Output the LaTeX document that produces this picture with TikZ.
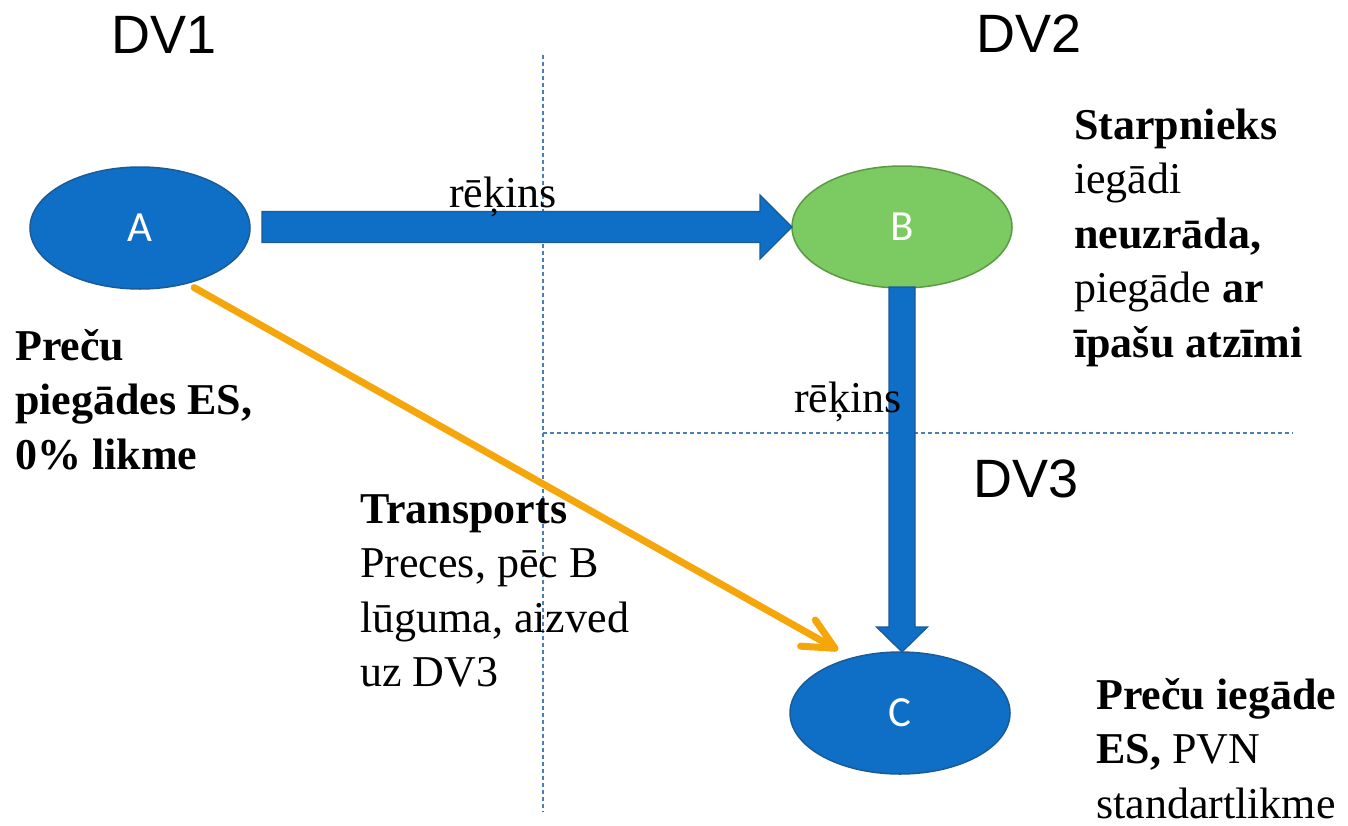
\documentclass[tikz,border=0pt]{standalone}
\usepackage{fontspec}
\setmainfont{Liberation Serif}
\newfontfamily\dvfont{Liberation Sans}
\newfontfamily\lblfont{Carlito}
\usetikzlibrary{shapes.geometric,arrows.meta,calc}
\definecolor{nodeblue}{HTML}{0F6FC6}
\definecolor{nodeblueedge}{HTML}{1A5A96}
\definecolor{nodegreen}{HTML}{7CCA62}
\definecolor{nodegreenedge}{HTML}{5A9A43}
\definecolor{flowor}{HTML}{F5A60B}
\definecolor{dashblue}{HTML}{4A7EBB}
\begin{document}
\begin{tikzpicture}[x=1pt,y=-1pt,
 ell/.style={ellipse, minimum width=220pt, minimum height=122pt, inner sep=0pt, outer sep=0pt, line width=1.5pt, text=white, font=\lblfont\fontsize{43}{50}\selectfont},
 bluenode/.style={ell, fill=nodeblue, draw=nodeblueedge},
 greennode/.style={ell, fill=nodegreen, draw=nodegreenedge},
 blockarrow/.style={fill=nodeblue, draw=nodeblueedge, line width=1.2pt, line join=miter},
 divider/.style={dashblue, line width=1.1pt, dash pattern=on 4pt off 3pt},
 dvlabel/.style={anchor=base west, inner sep=0pt, font=\dvfont\fontsize{54}{60}\selectfont},
 note/.style={anchor=north west, inner sep=0pt, align=left, font=\fontsize{44}{54.5}\selectfont},
 flowlbl/.style={anchor=base west, inner sep=0pt, font=\fontsize{44}{54.5}\selectfont},
 transport/.style={flowor, line width=7pt, line cap=round, -{Straight Barb[length=31pt,width=30pt,line cap=round,line join=round]}}
]
\useasboundingbox (0,0) rectangle (1348,825);

% dashed dividers
\coordinate (v1) at (543,55);
\coordinate (v2) at (543,812);
\coordinate (h1) at (543,433);
\coordinate (h2) at (1293,433);
\draw[divider] (v1) -- (v2);
\draw[divider] (h1) -- (h2);

% parties
\node[bluenode] (A) at (140,228) {A};
\node[greennode] (B) at (902,227) {B};
\node[bluenode] (C) at (900,713) {C};

% invoice A -> B
\coordinate (hs) at ($(A.east |- B.west)+(12,0)$);
\coordinate (he) at (B.west);
\filldraw[blockarrow] ($(hs)+(0,-15.5)$) -- ($(he)+(-32,-15.5)$) -- ($(he)+(-32,-32)$) -- (he)
  -- ($(he)+(-32,32)$) -- ($(he)+(-32,15.5)$) -- ($(hs)+(0,15.5)$) -- cycle;

% invoice B -> C
\coordinate (vs) at (B.south);
\coordinate (ve) at (B.south |- C.north);
\filldraw[blockarrow] ($(vs)+(-13,-1)$) -- ($(ve)+(-13,-25)$) -- ($(ve)+(-25.5,-25)$) -- (ve)
  -- ($(ve)+(25.5,-25)$) -- ($(ve)+(13,-25)$) -- ($(vs)+(13,-1)$) -- cycle;

% transport A -> C
\coordinate (os) at ($(A.-48)+(5,5)$);
\coordinate (ot) at ($(C.north)+(-62,-2)$);
\draw[transport] (os) -- (ot);

% labels
\node[dvlabel] (dv1) at (111,53) {DV1};
\node[dvlabel] (dv2) at (976,52) {DV2};
\node[dvlabel] (dv3) at (973,497) {DV3};
\node[flowlbl] (r1) at (449,207) {rēķins};
\node[flowlbl] (r2) at (794,412) {rēķins};

\node[note] (nA) at (15,321.85) {\strut\textbf{Preču}\\\textbf{piegādes ES,}\\\textbf{0\% likme}};
\node[note] (nB) at (1074,100.85) {\strut\textbf{Starpnieks}\\iegādi\\\textbf{neuzrāda,}\\piegāde \textbf{ar}\\\textbf{īpašu atzīmi}};
\node[note] (nT) at (360,484.85) {\strut\textbf{Transports}\\Preces, pēc B\\lūguma, aizved\\uz DV3};
\node[note] (nC) at (1096,670.85) {\strut\textbf{Preču iegāde}\\\textbf{ES,} PVN\\standartlikme};
\end{tikzpicture}
\end{document}
